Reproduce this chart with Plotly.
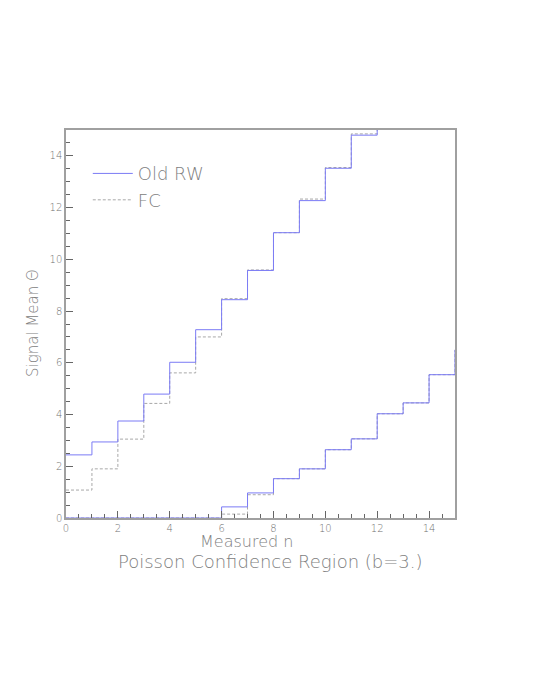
import plotly.graph_objects as go

# Measured n (bin lower edges)
n_upper = list(range(0, 13))
rw_upper = [2.44, 2.94, 3.75, 4.79, 6.02, 7.28, 8.44, 9.57, 11.03, 12.27, 13.52, 14.80, 16.0]
fc_upper = [1.08, 1.90, 3.05, 4.43, 5.61, 7.00, 8.48, 9.59, 11.03, 12.33, 13.55, 14.85, 16.0]

n_lower = list(range(0, 16))
rw_lower = [0, 0, 0, 0, 0, 0, 0.43, 0.97, 1.52, 1.90, 2.64, 3.06, 4.03, 4.45, 5.54, 6.5]
fc_lower = [0, 0, 0, 0, 0, 0, 0.15, 0.90, 1.52, 1.90, 2.64, 3.06, 4.03, 4.45, 5.54, 6.5]

x_ticks = [0, 2, 4, 6, 8, 10, 12, 14]
y_ticks = [0, 2, 4, 6, 8, 10, 12, 14]

BLUE = "#7b7bf5"
GRAY = "#a8a8a8"
TXT = "#808080"
FONT = "DejaVu Sans"


def steps(ns, vals):
    xs = list(ns) + [ns[-1] + 1]
    ys = list(vals) + [vals[-1]]
    return xs, ys


fig = go.Figure()
x, y = steps(n_upper, fc_upper)
fig.add_trace(go.Scatter(x=x, y=y, mode="lines", line=dict(shape="hv", color=GRAY, width=1, dash="3px,2px"),
                         name="FC", legendrank=2))
x, y = steps(n_lower, fc_lower)
fig.add_trace(go.Scatter(x=x, y=y, mode="lines", line=dict(shape="hv", color=GRAY, width=1, dash="3px,2px"),
                         showlegend=False))
x, y = steps(n_upper, rw_upper)
fig.add_trace(go.Scatter(x=x, y=y, mode="lines", line=dict(shape="hv", color=BLUE, width=1),
                         name="Old RW", legendrank=1))
x, y = steps(n_lower, rw_lower)
fig.add_trace(go.Scatter(x=x, y=y, mode="lines", line=dict(shape="hv", color=BLUE, width=1),
                         showlegend=False))

axis_common = dict(
    showgrid=False, zeroline=False, showline=True, mirror=True,
    linecolor="#a0a0a0", linewidth=1.5,
    ticks="inside", ticklen=7, tickwidth=1, tickcolor="#666",
    tickfont=dict(family=FONT, size=10, color="#707070", weight=200),
    minor=dict(dtick=0.5, ticks="inside", ticklen=4, tickcolor="#666", tickwidth=1),
)

# page body has an 8px margin: plot area should land at x 66..455, y 130..518 on screen
L, T = 58, 122
W, H = 527, 684
PW, PH = 389, 388

fig.update_layout(
    width=W, height=H,
    margin=dict(l=L, r=W - L - PW, t=T, b=H - T - PH),
    paper_bgcolor="white", plot_bgcolor="white",
    xaxis=dict(range=[0, 15], tickvals=x_ticks, ticktext=[str(v) for v in x_ticks], **axis_common),
    yaxis=dict(range=[0, 15], tickvals=y_ticks, ticktext=[str(v) for v in y_ticks], **axis_common),
    showlegend=True,
    legend=dict(x=0.056, y=0.935, xanchor="left", yanchor="top", bgcolor="rgba(0,0,0,0)",
                font=dict(family=FONT, size=18, color=TXT, weight=200),
                tracegroupgap=0, itemwidth=40),
    font=dict(family=FONT, color=TXT),
    annotations=[
        dict(text="Measured n", x=(246.5 - 66) / PW, y=-(541 - 518) / PH, xref="paper", yref="paper",
             yanchor="middle", showarrow=False, font=dict(family=FONT, size=16, color=TXT, weight=200)),
        dict(text="Poisson Confidence Region (b=3.)", x=(270 - 66) / PW, y=-(561 - 518) / PH,
             xref="paper", yref="paper", yanchor="middle",
             showarrow=False, font=dict(family=FONT, size=18, color=TXT, weight=200)),
        dict(text="Signal Mean Θ", x=-(66 - 33) / PW, y=(518 - 323) / PH, xref="paper", yref="paper",
             xanchor="center", yanchor="middle", showarrow=False,
             textangle=-90, font=dict(family=FONT, size=15, color=TXT, weight=200)),
    ],
)

fig.write_html("out.html")
